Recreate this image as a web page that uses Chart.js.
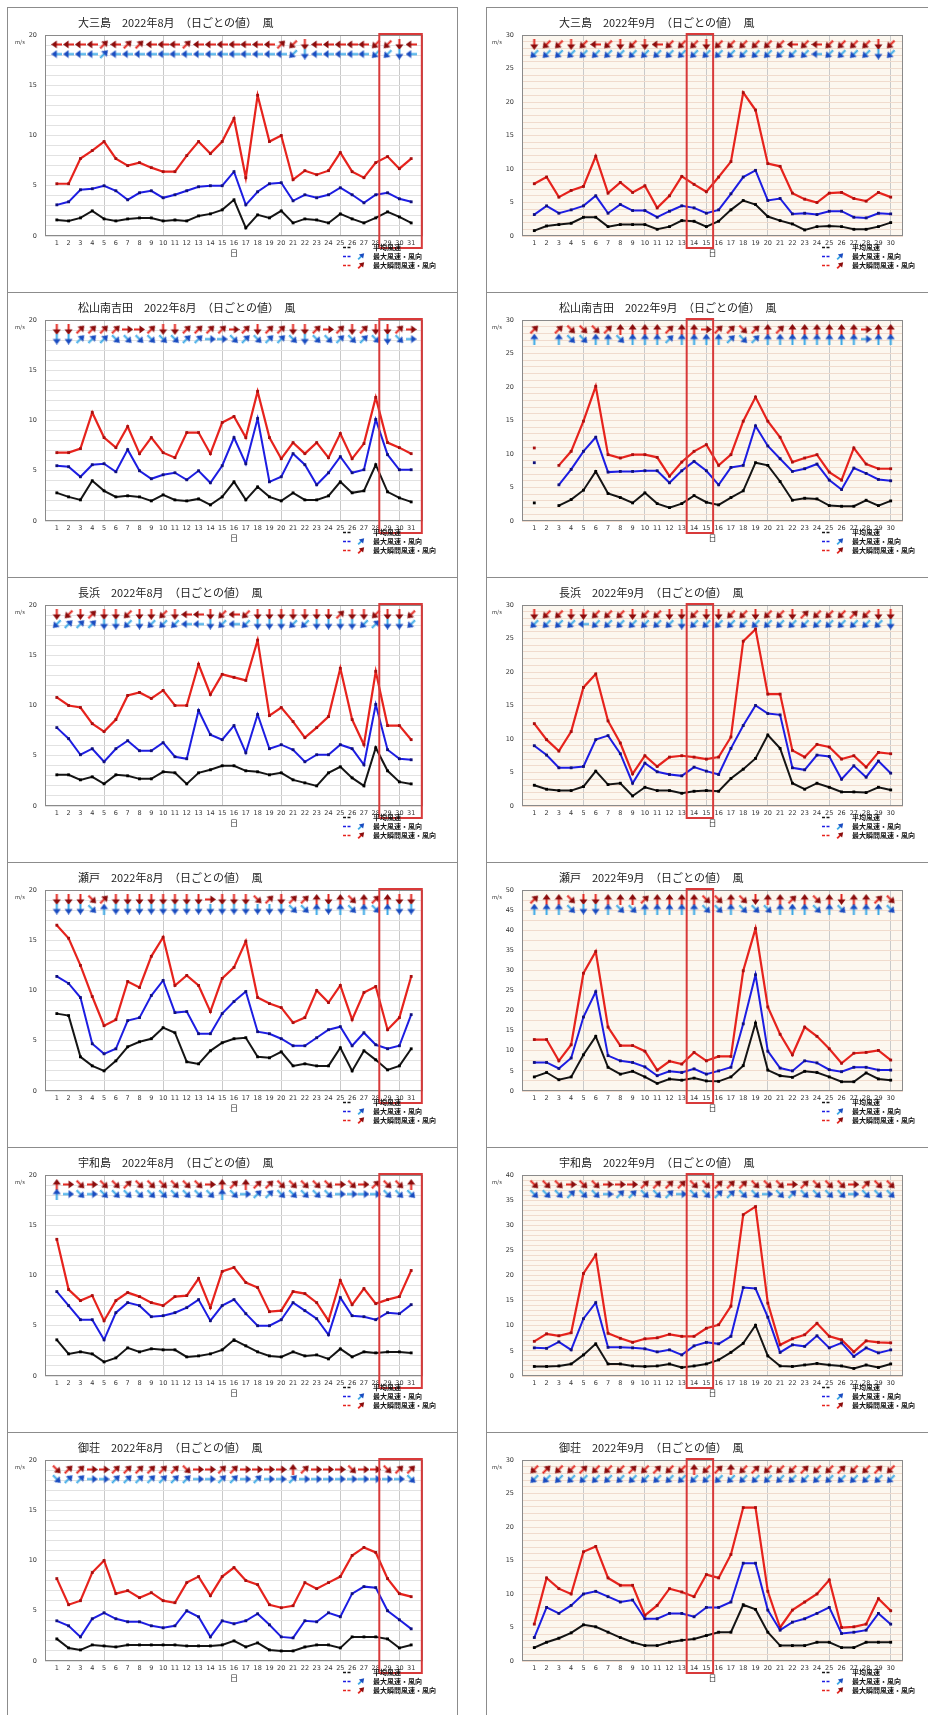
<!DOCTYPE html>
<html lang="ja">
<head>
<meta charset="utf-8">
<title>日ごとの風</title>
<script src="https://cdn.jsdelivr.net/npm/chart.js@4/dist/chart.umd.min.js"></script>
<style>
  html, body { margin: 0; padding: 0; background: #fff; }
  body { position: relative; width: 928px; height: 1715px; overflow: hidden;
         font-family: "Noto Sans CJK JP", "Noto Sans", sans-serif; }
  .panel { position: absolute; background: #fff; box-sizing: border-box;
           outline: 1.5px solid #8c8c8c; outline-offset: -1.5px; overflow: hidden; }
  .panel canvas { position: absolute; left: 0; top: 0; }
  .ttl { position: absolute; font-size: 11px; line-height: 14px; color: #222; white-space: nowrap; }
  .unit { position: absolute; font-size: 5.5px; line-height: 7px; color: #333; white-space: nowrap; }
  .leg { position: absolute; height: 9px; line-height: 9px; font-size: 7px; font-weight: bold;
         color: #111; white-space: nowrap; }
  .leg svg { position: absolute; top: 0; }
  .leg span { position: absolute; top: 0; }
</style>
</head>
<body>
<script>
// ---- days on the x axis ----
const DAYS_AUG = [1,2,3,4,5,6,7,8,9,10,11,12,13,14,15,16,17,18,19,20,21,22,23,24,25,26,27,28,29,30,31];
const DAYS_SEP = [1,2,3,4,5,6,7,8,9,10,11,12,13,14,15,16,17,18,19,20,21,22,23,24,25,26,27,28,29,30];

// ---- y axis upper limits (m/s) ----
const Y_MAX_AUG = 20;
const Y_MAX_OOMISHIMA_SEP = 30;
const Y_MAX_MATSUYAMA_SEP = 30;
const Y_MAX_NAGAHAMA_SEP = 30;
const Y_MAX_SETO_SEP = 50;
const Y_MAX_UWAJIMA_SEP = 40;
const Y_MAX_MISHO_SEP = 30;

// ---- highlighted day ranges ----
const HIGHLIGHT_AUG = [28.3, 31.9];
const HIGHLIGHT_SEP = [13.4, 15.55];

// ---- 大三島 ----
const oomishimaAugGust = [5.2,5.2,7.7,8.5,9.4,7.7,7.0,7.3,6.8,6.4,6.4,8.0,9.4,8.2,9.4,11.7,5.8,14.0,9.4,10.0,5.6,6.5,6.1,6.5,8.3,6.4,5.8,7.3,7.9,6.7,7.7];
const oomishimaAugMax  = [3.1,3.4,4.6,4.7,5.0,4.5,3.6,4.3,4.5,3.8,4.1,4.5,4.9,5.0,5.0,6.4,3.1,4.4,5.2,5.3,3.5,4.1,3.8,4.1,4.8,4.1,3.3,4.1,4.3,3.7,3.4];
const oomishimaAugAvg  = [1.6,1.5,1.8,2.5,1.7,1.5,1.7,1.8,1.8,1.5,1.6,1.5,2.0,2.2,2.6,3.6,0.8,2.1,1.8,2.5,1.3,1.7,1.6,1.3,2.2,1.7,1.3,1.8,2.4,1.9,1.3];
const oomishimaAugGustDir = ["E","E","E","E","SW","E","SW","SW","E","E","E","SW","E","E","E","E","E","E","E","SW","NE","N","E","E","E","E","E","NE","NE","N","E"];
const oomishimaAugMaxDir  = ["E","E","E","E","SW","E","E","E","E","E","E","E","E","E","E","E","E","E","E","E","NE","N","E","E","E","E","E","NE","NE","N","E"];

const oomishimaSepGust = [7.8,8.8,5.8,6.8,7.4,11.9,6.4,8.0,6.5,7.5,4.2,6.0,8.9,7.7,6.6,8.8,11.1,21.4,18.8,10.8,10.4,6.4,5.5,5.0,6.4,6.5,5.6,5.2,6.5,5.8];
const oomishimaSepMax  = [3.2,4.5,3.4,3.9,4.5,6.0,3.4,4.7,3.8,3.8,2.8,3.7,4.5,4.2,3.4,3.9,6.3,8.8,9.8,5.3,5.6,3.3,3.4,3.2,3.7,3.7,2.8,2.7,3.4,3.3];
const oomishimaSepAvg  = [0.8,1.5,1.7,1.9,2.8,2.8,1.4,1.7,1.7,1.7,1.0,1.4,2.3,2.2,1.4,2.2,3.9,5.3,4.7,2.9,2.3,1.8,0.9,1.4,1.5,1.4,1.0,1.0,1.4,2.0];
const oomishimaSepGustDir = ["N","NE","NE","N","NE","E","NE","N","NE","N","E","NE","NE","NE","N","NE","NE","NE","NE","NE","NE","E","NE","E","NE","NE","NE","NE","N","NE"];
const oomishimaSepMaxDir  = ["NE","NE","NE","NE","NE","NE","NE","NE","NE","NE","NE","NE","NE","NE","NE","NE","NE","NE","NE","NE","NE","NE","NE","E","NE","NE","NE","NE","N","NE"];

// ---- 松山南吉田 ----
const matsuyamaAugGust = [6.8,6.8,7.2,10.8,8.3,7.3,9.4,6.7,8.3,6.8,6.3,8.8,8.8,6.7,9.8,10.4,8.3,12.9,8.3,6.2,7.8,6.7,7.8,6.3,8.7,6.2,7.7,12.3,7.8,7.3,6.7];
const matsuyamaAugMax  = [5.5,5.4,4.4,5.6,5.7,4.9,7.1,5.0,4.2,4.6,4.8,4.1,5.0,3.8,5.5,8.3,5.7,10.2,3.9,4.4,6.7,5.6,3.6,4.8,6.4,4.8,5.1,10.1,6.6,5.1,5.1];
const matsuyamaAugAvg  = [2.8,2.4,2.1,4.0,3.0,2.4,2.5,2.4,2.0,2.6,2.1,2.0,2.2,1.6,2.4,3.9,2.1,3.4,2.4,2.0,2.8,2.1,2.1,2.5,3.9,2.8,3.0,5.6,2.9,2.3,1.9];
const matsuyamaAugGustDir = ["N","N","SW","SW","SW","SW","W","W","SW","N","N","SW","SW","SW","SW","W","SW","N","SW","SW","N","N","SW","W","SW","N","SW","N","N","SW","W"];
const matsuyamaAugMaxDir  = ["N","N","SW","SW","SW","NW","NW","NW","NW","NW","NW","SW","SW","W","W","NW","SW","NW","SW","SW","NW","N","NW","NW","SW","NW","SW","NW","N","NW","W"];

const matsuyamaSepGust = [10.9,null,8.3,10.4,14.9,20.1,9.9,9.4,9.9,9.9,9.5,6.7,8.8,10.4,11.4,8.3,9.9,14.9,18.5,14.9,12.5,8.8,9.4,9.9,7.3,6.1,10.9,8.5,7.8,7.8];
const matsuyamaSepMax  = [8.7,null,5.4,7.7,10.4,12.5,7.3,7.4,7.4,7.5,7.5,5.7,7.5,8.9,7.5,5.4,8.0,8.3,14.2,11.2,9.3,7.4,7.8,8.5,6.1,4.7,7.9,7.1,6.2,6.0];
const matsuyamaSepAvg  = [2.7,null,2.3,3.2,4.6,7.4,4.1,3.5,2.7,4.2,2.6,2.0,2.6,3.8,2.8,2.4,3.5,4.5,8.7,8.3,5.9,3.1,3.4,3.3,2.3,2.2,2.2,3.1,2.3,3.0];
const matsuyamaSepGustDir = ["SW",null,"SW","NW","NW","NW","SW","S","S","S","S","SW","S","S","W","SW","SW","NW","SW","S","SW","S","S","S","S","S","S","W","S","S"];
const matsuyamaSepMaxDir  = ["S",null,"S","NW","NW","S","S","NW","S","S","S","SW","S","S","S","S","SW","NW","SW","S","S","S","S","S","S","S","S","W","S","S"];

// ---- 長浜 ----
const nagahamaAugGust = [10.8,10.0,9.8,8.2,7.4,8.6,11.0,11.3,10.7,11.5,10.0,10.0,14.1,11.1,13.1,12.8,12.5,16.5,9.0,9.8,8.4,6.8,7.8,8.9,13.7,8.6,6.1,13.4,8.0,8.0,6.6];
const nagahamaAugMax  = [7.8,6.7,5.1,5.7,4.4,5.7,6.5,5.5,5.5,6.3,4.9,4.7,9.5,7.1,6.6,8.0,5.3,9.1,5.7,6.1,5.6,4.4,5.1,5.1,6.1,5.7,4.1,10.1,5.6,4.7,4.6];
const nagahamaAugAvg  = [3.1,3.1,2.6,2.9,2.2,3.1,3.0,2.7,2.7,3.4,3.3,2.2,3.3,3.6,4.0,4.0,3.5,3.4,3.1,3.3,2.6,2.3,2.0,3.3,3.9,2.8,2.0,5.8,3.5,2.4,2.2];
const nagahamaAugGustDir = ["N","NE","N","SW","N","N","NE","N","N","NE","N","E","E","N","NE","E","NE","N","N","N","N","N","N","N","SW","N","N","NE","N","N","NE"];
const nagahamaAugMaxDir  = ["NE","SW","SW","SW","N","N","NE","N","NE","NE","NE","E","E","N","NE","E","NE","N","N","N","NE","NE","N","N","N","N","NE","SW","N","N","NE"];

const nagahamaSepGust = [12.3,9.9,8.2,11.1,17.7,19.7,12.7,9.4,4.8,7.5,5.9,7.3,7.5,7.3,7.0,7.3,10.3,24.6,26.4,16.7,16.7,8.3,7.3,9.2,8.8,7.0,7.5,5.8,8.0,7.8];
const nagahamaSepMax  = [9.0,7.6,5.7,5.7,5.9,9.9,10.5,7.8,3.4,6.4,5.1,4.7,4.5,5.8,5.2,4.7,8.6,12.0,15.0,13.8,13.6,5.7,5.4,7.6,7.4,4.0,6.0,4.3,6.7,4.9];
const nagahamaSepAvg  = [3.1,2.5,2.3,2.3,2.9,5.2,3.2,3.4,1.5,2.8,2.3,2.3,1.9,2.2,2.3,2.2,4.1,5.5,7.1,10.6,8.6,3.4,2.5,3.4,2.8,2.1,2.1,2.0,2.8,2.4];
const nagahamaSepGustDir = ["N","NE","NE","N","N","NE","NE","NE","N","NE","NE","N","N","NE","N","N","NE","NE","N","NE","NE","N","SW","NE","NE","NE","SW","NE","N","N"];
const nagahamaSepMaxDir  = ["NE","NE","NE","NE","E","NE","NE","NE","NE","NE","NE","NE","N","NE","NE","NE","NE","NE","NE","NE","NE","NE","NE","NE","NE","NE","NE","NE","NE","N"];

// ---- 瀬戸 ----
const setoAugGust = [16.5,15.2,12.5,9.4,6.5,7.1,10.9,10.3,13.4,15.3,10.5,11.5,10.5,7.9,11.2,12.3,14.9,9.3,8.7,8.3,6.8,7.3,10.0,8.8,10.5,7.1,9.8,10.4,6.1,7.3,11.4];
const setoAugMax  = [11.4,10.7,9.3,4.7,3.7,4.2,7.0,7.3,9.5,11.0,7.8,7.9,5.7,5.7,7.7,8.9,9.9,5.9,5.7,5.2,4.5,4.5,5.3,6.1,6.4,4.5,5.8,4.6,4.2,4.5,7.6];
const setoAugAvg  = [7.7,7.5,3.4,2.5,2.0,3.0,4.4,4.9,5.2,6.3,5.8,2.9,2.7,4.0,4.8,5.2,5.3,3.4,3.3,3.9,2.5,2.7,2.5,2.5,4.3,2.0,4.0,3.1,2.1,2.5,4.2];
const setoAugGustDir = ["N","N","N","NW","SW","N","N","N","N","N","N","N","N","W","N","N","N","NW","SW","N","SW","SW","S","N","S","NW","S","SW","S","N","N"];
const setoAugMaxDir  = ["N","N","N","NW","S","N","N","N","N","N","N","N","N","N","N","N","N","N","N","N","NW","NW","S","N","S","NW","S","NW","S","N","N"];

const setoSepGust = [12.8,12.8,7.5,11.5,29.3,34.7,15.9,11.3,11.3,9.9,5.2,7.4,6.7,9.6,7.5,8.6,8.6,29.9,40.4,20.9,14.1,9.0,15.9,13.6,10.5,6.9,9.4,9.6,10.1,7.7];
const setoSepMax  = [7.1,7.1,5.6,8.2,18.4,24.7,8.8,7.5,7.1,6.0,3.8,4.9,4.6,5.5,4.2,5.0,5.9,16.7,28.9,9.9,5.7,5.0,7.5,7.0,5.3,4.8,5.9,5.9,5.2,5.2];
const setoSepAvg  = [3.5,4.6,2.8,3.5,9.0,13.6,5.9,4.2,4.9,3.5,1.9,3.0,2.7,3.2,2.5,2.4,3.5,6.3,16.9,5.2,3.8,3.4,4.9,4.6,3.5,2.3,2.3,4.5,3.0,2.7];
const setoSepGustDir = ["SW","S","S","NW","N","N","S","S","S","SW","S","S","S","S","NW","NW","S","NW","N","S","S","SW","S","NW","S","N","S","S","SW","NW"];
const setoSepMaxDir  = ["S","S","S","NW","N","N","S","NW","NW","S","S","S","S","S","NW","NW","S","NW","NW","NW","S","S","S","NW","S","NW","S","S","S","NW"];

// ---- 宇和島 ----
const uwajimaAugGust = [13.6,8.6,7.5,8.0,5.5,7.5,8.3,7.9,7.3,7.0,7.9,8.0,9.7,6.8,10.4,10.8,9.3,8.8,6.4,6.5,8.4,8.2,7.3,5.5,9.5,7.1,8.7,7.2,7.6,7.9,10.5];
const uwajimaAugMax  = [8.4,7.0,5.6,5.6,3.6,6.3,7.3,7.0,5.9,6.0,6.3,6.8,7.6,5.5,7.0,7.6,6.2,5.0,5.0,5.6,7.3,6.5,5.7,4.1,7.8,6.0,5.9,5.6,6.3,6.2,7.1];
const uwajimaAugAvg  = [3.6,2.2,2.4,2.2,1.4,1.8,2.8,2.4,2.7,2.6,2.6,1.9,2.0,2.2,2.6,3.6,3.0,2.4,2.0,1.9,2.4,2.0,2.1,1.7,2.7,1.9,2.4,2.3,2.4,2.4,2.3];
const uwajimaAugGustDir = ["S","W","NW","W","NW","NW","SW","NW","NW","NW","NW","NW","NW","W","S","SW","S","SW","SW","NW","NW","NW","NW","NW","W","NW","W","SW","NW","NW","S"];
const uwajimaAugMaxDir  = ["S","W","NW","W","NW","NW","NW","NW","NW","NW","NW","NW","NW","NW","S","NW","W","SW","SW","NW","NW","NW","NW","NW","W","W","W","W","NW","NW","NW"];

const uwajimaSepGust = [6.9,8.4,8.0,8.6,20.4,24.1,8.5,7.5,6.7,7.4,7.6,8.3,7.9,7.9,9.5,10.2,13.9,32.1,33.7,14.5,6.2,7.4,8.2,10.5,7.9,7.2,4.8,7.0,6.7,6.6];
const uwajimaSepMax  = [5.6,5.5,6.8,5.2,11.4,14.6,5.7,5.7,5.6,5.4,4.8,5.2,4.2,6.0,6.7,6.4,7.9,17.6,17.4,11.7,4.7,6.2,5.9,8.0,5.6,6.6,3.9,5.6,4.6,5.2];
const uwajimaSepAvg  = [1.9,1.9,2.0,2.4,4.2,6.4,2.4,2.4,2.0,1.9,2.0,2.4,1.7,2.0,2.4,3.2,4.7,6.5,10.1,4.0,2.0,1.9,2.2,2.5,2.2,2.0,1.5,2.2,1.7,2.4];
const uwajimaSepGustDir = ["NW","NW","NW","W","NW","NW","W","W","W","SW","SW","SW","SW","NW","NW","SW","SW","SW","NW","NW","NW","W","SW","NW","NW","NW","W","SW","NW","NW"];
const uwajimaSepMaxDir  = ["NW","NW","NW","SW","NW","NW","W","SW","SW","NW","NW","SW","W","NW","NW","SW","SW","NW","NW","W","NW","SW","NW","NW","NW","NW","W","NW","NW","NW"];

// ---- 御荘 ----
const mishoAugGust = [8.2,5.6,6.0,8.8,10.0,6.7,7.0,6.3,6.8,6.0,5.8,7.8,8.4,6.5,8.4,9.3,8.0,7.6,5.6,5.3,5.5,7.8,7.2,7.8,8.4,10.5,11.3,10.8,8.2,6.7,6.4];
const mishoAugMax  = [4.0,3.5,2.4,4.2,4.8,4.2,3.9,3.9,3.5,3.3,3.5,5.0,4.4,2.4,4.0,3.7,4.0,4.7,3.6,2.4,2.3,4.0,3.9,4.8,4.4,6.7,7.4,7.3,5.0,4.1,3.2];
const mishoAugAvg  = [2.2,1.3,1.1,1.6,1.5,1.4,1.6,1.6,1.6,1.6,1.6,1.5,1.5,1.5,1.6,2.0,1.4,1.8,1.1,1.0,1.0,1.4,1.6,1.6,1.3,2.4,2.4,2.4,2.2,1.3,1.6];
const mishoAugGustDir = ["NW","SW","SW","W","W","SW","SW","SW","SW","SW","SW","NW","W","W","SW","SW","W","W","W","W","S","SW","W","W","W","NW","W","W","NW","SW","SW"];
const mishoAugMaxDir  = ["NW","SW","SW","W","W","SW","SW","SW","SW","SW","SW","SW","W","W","SW","SW","W","SW","W","W","SW","W","W","W","W","W","W","W","W","W","NW"];

const mishoSepGust = [5.5,12.4,10.8,10.0,16.3,17.1,12.4,11.3,11.3,6.8,8.3,10.8,10.3,9.6,12.9,12.4,15.9,22.9,22.9,10.4,5.0,7.6,8.8,10.0,12.1,5.0,5.1,5.5,9.3,7.5];
const mishoSepMax  = [3.5,8.0,7.1,8.3,10.0,10.4,9.6,8.8,9.1,6.3,6.3,7.1,7.1,6.6,8.0,8.0,8.8,14.6,14.6,7.6,4.6,5.8,6.3,7.1,8.0,4.1,4.3,4.6,7.1,5.5];
const mishoSepAvg  = [2.0,2.8,3.4,4.2,5.4,5.1,4.3,3.5,2.8,2.3,2.3,2.8,3.1,3.3,3.8,4.3,4.3,8.4,7.7,4.3,2.3,2.3,2.3,2.8,2.8,2.0,2.0,2.8,2.8,2.8];
const mishoSepGustDir = ["NE","SW","NE","NE","SW","NE","NE","NE","SW","NE","SW","NE","NE","S","NE","SW","S","NE","SW","NE","NE","NE","SW","NE","NE","SW","NE","NE","SW","NE"];
const mishoSepMaxDir  = ["NE","NE","NE","NE","NE","NE","NE","NE","NE","NE","NE","NE","NE","NE","NE","NE","NE","NE","NE","NE","NE","NE","NE","NE","NE","NE","NE","NE","NE","NE"];

// ---- panel list (row by row: August left, September right) ----
const PANELS = [
  { station: "大三島",     month: 8, days: DAYS_AUG, yMax: Y_MAX_AUG,            hl: HIGHLIGHT_AUG, gust: oomishimaAugGust, max: oomishimaAugMax, avg: oomishimaAugAvg, gustDir: oomishimaAugGustDir, maxDir: oomishimaAugMaxDir },
  { station: "大三島",     month: 9, days: DAYS_SEP, yMax: Y_MAX_OOMISHIMA_SEP,  hl: HIGHLIGHT_SEP, gust: oomishimaSepGust, max: oomishimaSepMax, avg: oomishimaSepAvg, gustDir: oomishimaSepGustDir, maxDir: oomishimaSepMaxDir },
  { station: "松山南吉田", month: 8, days: DAYS_AUG, yMax: Y_MAX_AUG,            hl: HIGHLIGHT_AUG, gust: matsuyamaAugGust, max: matsuyamaAugMax, avg: matsuyamaAugAvg, gustDir: matsuyamaAugGustDir, maxDir: matsuyamaAugMaxDir },
  { station: "松山南吉田", month: 9, days: DAYS_SEP, yMax: Y_MAX_MATSUYAMA_SEP,  hl: HIGHLIGHT_SEP, gust: matsuyamaSepGust, max: matsuyamaSepMax, avg: matsuyamaSepAvg, gustDir: matsuyamaSepGustDir, maxDir: matsuyamaSepMaxDir },
  { station: "長浜",       month: 8, days: DAYS_AUG, yMax: Y_MAX_AUG,            hl: HIGHLIGHT_AUG, gust: nagahamaAugGust,  max: nagahamaAugMax,  avg: nagahamaAugAvg,  gustDir: nagahamaAugGustDir,  maxDir: nagahamaAugMaxDir },
  { station: "長浜",       month: 9, days: DAYS_SEP, yMax: Y_MAX_NAGAHAMA_SEP,   hl: HIGHLIGHT_SEP, gust: nagahamaSepGust,  max: nagahamaSepMax,  avg: nagahamaSepAvg,  gustDir: nagahamaSepGustDir,  maxDir: nagahamaSepMaxDir },
  { station: "瀬戸",       month: 8, days: DAYS_AUG, yMax: Y_MAX_AUG,            hl: HIGHLIGHT_AUG, gust: setoAugGust,      max: setoAugMax,      avg: setoAugAvg,      gustDir: setoAugGustDir,      maxDir: setoAugMaxDir },
  { station: "瀬戸",       month: 9, days: DAYS_SEP, yMax: Y_MAX_SETO_SEP,       hl: HIGHLIGHT_SEP, gust: setoSepGust,      max: setoSepMax,      avg: setoSepAvg,      gustDir: setoSepGustDir,      maxDir: setoSepMaxDir },
  { station: "宇和島",     month: 8, days: DAYS_AUG, yMax: Y_MAX_AUG,            hl: HIGHLIGHT_AUG, gust: uwajimaAugGust,   max: uwajimaAugMax,   avg: uwajimaAugAvg,   gustDir: uwajimaAugGustDir,   maxDir: uwajimaAugMaxDir },
  { station: "宇和島",     month: 9, days: DAYS_SEP, yMax: Y_MAX_UWAJIMA_SEP,    hl: HIGHLIGHT_SEP, gust: uwajimaSepGust,   max: uwajimaSepMax,   avg: uwajimaSepAvg,   gustDir: uwajimaSepGustDir,   maxDir: uwajimaSepMaxDir },
  { station: "御荘",       month: 8, days: DAYS_AUG, yMax: Y_MAX_AUG,            hl: HIGHLIGHT_AUG, gust: mishoAugGust,     max: mishoAugMax,     avg: mishoAugAvg,     gustDir: mishoAugGustDir,     maxDir: mishoAugMaxDir },
  { station: "御荘",       month: 9, days: DAYS_SEP, yMax: Y_MAX_MISHO_SEP,      hl: HIGHLIGHT_SEP, gust: mishoSepGust,     max: mishoSepMax,     avg: mishoSepAvg,     gustDir: mishoSepGustDir,     maxDir: mishoSepMaxDir }
];

// ---- layout ----
const ROW_TOPS = [7, 292, 577, 862, 1147, 1432];
const PANEL_H = 286;
const PLOT_TOP = 28;
const PLOT_BOTTOM = 229;
const X_AXIS_H = 22;
const COLUMNS = [
  { x: 7,   w: 451, plotLeft: 38, plotRight: 416, titleX: 71, unitX: 8, bg: "#ffffff", hgrid: "#e2e2e2", vgrid: "#c9c9c9" },
  { x: 486, w: 450, plotLeft: 36, plotRight: 417, titleX: 73, unitX: 6, bg: "#fcf7ef", hgrid: "#f0dbcd", vgrid: "#c9c9c9" }
];
const ROW_GUST = 0.953;   // arrow row heights as a fraction of the axis range
const ROW_MAX = 0.905;

const COLORS = {
  gust: "#e6231d", gustPt: "#a80f0f",
  max: "#1d1de2",  maxPt: "#10107a",
  avg: "#151515",  avgPt: "#000000",
  box: "#d83a3a"
};

const BEARING = { N: 0, NNE: 22.5, NE: 45, ENE: 67.5, E: 90, ESE: 112.5, SE: 135, SSE: 157.5,
                  S: 180, SSW: 202.5, SW: 225, WSW: 247.5, W: 270, WNW: 292.5, NW: 315, NNW: 337.5 };

// small arrow glyph pointing up; rotated per point to show where the wind blows
function arrowIcon(shaft, head) {
  const c = document.createElement("canvas");
  c.width = 9; c.height = 11;
  const g = c.getContext("2d");
  g.strokeStyle = shaft; g.lineWidth = 2;
  g.beginPath(); g.moveTo(4.5, 11); g.lineTo(4.5, 4); g.stroke();
  g.fillStyle = head;
  g.beginPath(); g.moveTo(4.5, 0); g.lineTo(8.5, 5.5); g.lineTo(0.5, 5.5); g.closePath(); g.fill();
  return c;
}
const ICON_GUST = arrowIcon("#e2261f", "#8a0c0c");
const ICON_MAX = arrowIcon("#3aa8e6", "#1a4cc0");

// plot background, frame and highlighted range
const framePlugin = {
  id: "frame",
  beforeDraw(chart, args, o) {
    const { ctx, chartArea: a } = chart;
    ctx.save();
    ctx.fillStyle = o.bg;
    ctx.fillRect(a.left, a.top, a.right - a.left, a.bottom - a.top);
    ctx.restore();
  },
  afterDraw(chart, args, o) {
    const { ctx, chartArea: a, scales } = chart;
    ctx.save();
    ctx.strokeStyle = "#8a8a8a";
    ctx.lineWidth = 1;
    ctx.strokeRect(a.left + 0.5, a.top + 0.5, a.right - a.left - 1, a.bottom - a.top - 1);
    const x0 = scales.x.getPixelForValue(o.hl[0]);
    const x1 = scales.x.getPixelForValue(o.hl[1]);
    ctx.strokeStyle = COLORS.box;
    ctx.lineWidth = 2;
    ctx.strokeRect(x0, a.top - 1, x1 - x0, a.bottom - a.top + 13);
    ctx.restore();
  }
};

function lineSet(label, days, vals, color, ptColor, width) {
  return {
    label,
    data: days.map((d, i) => ({ x: d, y: vals[i] })),
    borderColor: color,
    borderWidth: width,
    pointStyle: "rect",
    pointRadius: 2,
    pointBackgroundColor: ptColor,
    pointBorderWidth: 0,
    tension: 0,
    spanGaps: false
  };
}

function arrowSet(label, days, dirs, icon, level) {
  return {
    label,
    data: days.map((d, i) => ({ x: d, y: dirs[i] ? level : null })),
    showLine: false,
    pointStyle: icon,
    pointRadius: 4,
    pointRotation: ctx => (BEARING[dirs[ctx.dataIndex]] || 0) + 180
  };
}

function legendIcon(color, withArrow, arrowShaft, arrowHead) {
  let svg = '<svg width="24" height="9" viewBox="0 0 24 9">' +
    '<line x1="0" y1="4.5" x2="9" y2="4.5" stroke="' + color + '" stroke-width="1.3" stroke-dasharray="3,1.5"/>';
  if (withArrow) {
    svg += '<g transform="translate(18,4.5) rotate(45)">' +
      '<line x1="0" y1="4" x2="0" y2="-1" stroke="' + arrowShaft + '" stroke-width="1.8"/>' +
      '<polygon points="0,-4.5 3,0 -3,0" fill="' + arrowHead + '"/></g>';
  }
  return svg + "</svg>";
}

PANELS.forEach((p, i) => {
  const col = COLUMNS[i % 2];
  const top = ROW_TOPS[Math.floor(i / 2)];
  const panel = document.createElement("div");
  panel.className = "panel";
  panel.style.left = col.x + "px";
  panel.style.top = top + "px";
  panel.style.width = col.w + "px";
  panel.style.height = PANEL_H + "px";

  const cv = document.createElement("canvas");
  cv.width = col.w; cv.height = PANEL_H;
  cv.style.width = col.w + "px"; cv.style.height = PANEL_H + "px";
  panel.appendChild(cv);

  const ttl = document.createElement("div");
  ttl.className = "ttl";
  ttl.style.left = col.titleX + "px";
  ttl.style.top = "8px";
  ttl.textContent = p.station + "　2022年" + p.month + "月　（日ごとの値）　風";
  panel.appendChild(ttl);

  const unit = document.createElement("div");
  unit.className = "unit";
  unit.style.left = col.unitX + "px";
  unit.style.top = "32px";
  unit.textContent = "m/s";
  panel.appendChild(unit);

  const legendRows = [
    { text: "平均風速",           icon: legendIcon(COLORS.avg, false) },
    { text: "最大風速・風向",     icon: legendIcon(COLORS.max, true, "#3aa8e6", "#1a4cc0") },
    { text: "最大瞬間風速・風向", icon: legendIcon(COLORS.gust, true, "#e2261f", "#8a0c0c") }
  ];
  legendRows.forEach((r, k) => {
    const row = document.createElement("div");
    row.className = "leg";
    row.style.left = "336px";
    row.style.top = (236 + k * 9) + "px";
    row.style.width = "130px";
    row.innerHTML = r.icon.replace("<svg", '<svg style="left:0"') + '<span style="left:30px"></span>';
    row.querySelector("span").textContent = r.text;
    panel.appendChild(row);
  });

  document.body.appendChild(panel);

  const n = p.days.length;
  const minorStep = p.yMax > 40 ? 2.5 : 1;

  new Chart(cv, {
    type: "line",
    data: {
      datasets: [
        lineSet("平均風速", p.days, p.avg, COLORS.avg, COLORS.avgPt, 2),
        lineSet("最大風速", p.days, p.max, COLORS.max, COLORS.maxPt, 2),
        lineSet("最大瞬間風速", p.days, p.gust, COLORS.gust, COLORS.gustPt, 2.2),
        arrowSet("最大風速の風向", p.days, p.maxDir, ICON_MAX, p.yMax * ROW_MAX),
        arrowSet("最大瞬間風速の風向", p.days, p.gustDir, ICON_GUST, p.yMax * ROW_GUST)
      ]
    },
    options: {
      responsive: false,
      devicePixelRatio: 1,
      animation: false,
      events: [],
      layout: { padding: { left: 0, top: PLOT_TOP, right: col.w - col.plotRight,
                           bottom: PANEL_H - PLOT_BOTTOM - X_AXIS_H } },
      plugins: {
        legend: { display: false },
        tooltip: { enabled: false },
        frame: { bg: col.bg, hl: p.hl }
      },
      scales: {
        x: {
          type: "linear",
          min: 0,
          max: n + 1,
          afterBuildTicks: s => { s.ticks = p.days.map(v => ({ value: v })); },
          afterFit: s => { s.height = X_AXIS_H; },
          grid: {
            color: c => (c.tick && c.tick.value % 5 === 0 ? col.vgrid : "rgba(0,0,0,0)"),
            lineWidth: 1,
            drawTicks: false
          },
          border: { display: false },
          ticks: {
            autoSkip: false, maxRotation: 0, minRotation: 0, padding: 3,
            font: { size: 6.5, family: "DejaVu Sans" }, color: "#333",
            callback: v => String(v)
          },
          title: { display: true, text: "日", padding: { top: 1, bottom: 0 },
                   font: { size: 8, family: "Noto Sans CJK JP" }, color: "#333" }
        },
        y: {
          type: "linear",
          min: 0,
          max: p.yMax,
          afterFit: s => { s.width = col.plotLeft; },
          grid: { color: col.hgrid, lineWidth: 1, drawTicks: false },
          border: { display: false },
          ticks: {
            stepSize: minorStep, autoSkip: false, padding: 8,
            font: { size: 6.5, family: "DejaVu Sans" }, color: "#333",
            callback: v => (v % 5 === 0 ? String(v) : "")
          }
        }
      }
    },
    plugins: [framePlugin]
  });
});
</script>
</body>
</html>
